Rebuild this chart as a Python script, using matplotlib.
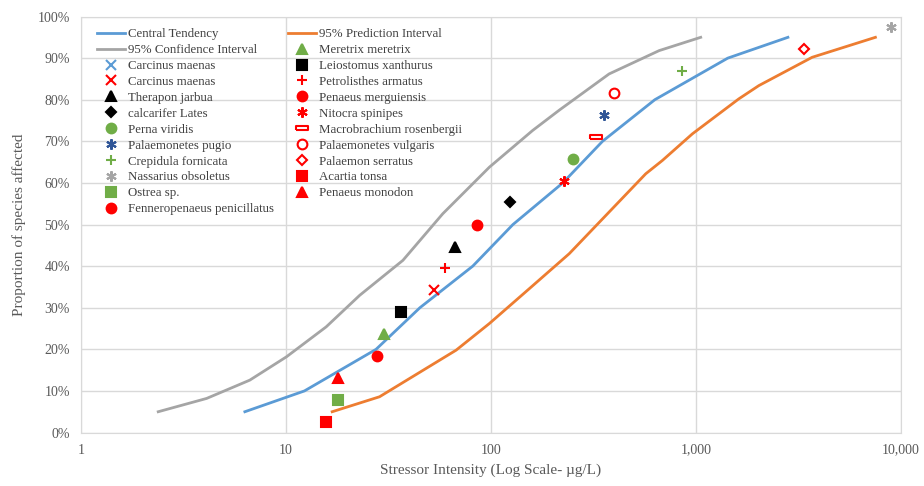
import matplotlib.pyplot as plt
from matplotlib.ticker import FuncFormatter, PercentFormatter, NullLocator

plt.rcParams['font.family'] = ['Liberation Serif', 'DejaVu Serif']

# fitted curves (concentration in ug/L, percent affected)
central_x = [6.3, 12.3, 27.5, 45, 81.5, 128, 224, 350, 630, 1430, 2810]
central_pct = [5, 10, 20, 30, 40, 50, 60, 70, 80, 90, 95]
confidence_x = [2.38, 4.1, 6.66, 10.05, 15.7, 22.9, 37.2, 58.2, 98.3, 159.6, 215.5, 377, 661, 1055]
confidence_pct = [5, 8.2, 12.6, 18.2, 25.4, 33, 41.4, 52.6, 63.8, 72.6, 77.5, 86.2, 91.8, 95]
prediction_x = [16.8, 28.6, 67.6, 98.2, 154, 241, 569, 686, 961, 1618, 2028, 3690, 7510]
prediction_pct = [5, 8.6, 19.8, 26.2, 34.6, 43, 62.2, 65.4, 71.8, 80.2, 83.4, 90.2, 95]

# species points (legend order, column by column)
species = ['Carcinus maenas', 'Carcinus maenas', 'Therapon jarbua', 'calcarifer Lates',
           'Perna viridis', 'Palaemonetes pugio', 'Crepidula fornicata', 'Nassarius obsoletus',
           'Ostrea sp.', 'Fenneropenaeus penicillatus',
           'Meretrix meretrix', 'Leiostomus xanthurus', 'Petrolisthes armatus',
           'Penaeus merguiensis', 'Nitocra spinipes', 'Macrobrachium rosenbergii',
           'Palaemonetes vulgaris', 'Palaemon serratus', 'Acartia tonsa', 'Penaeus monodon']
species_x = [None, 53, 67, 124, 252, 357, 859, 8920, 17.9, 27.9,
             30.1, 36.2, 59.7, 85.2, 228, 325, 399, 3360, 15.6, 17.9]
species_pct = [None, 34.2, 44.7, 55.3, 65.8, 76.3, 86.8, 97.4, 7.9, 18.4,
               23.7, 28.9, 39.5, 50.0, 60.5, 71.1, 81.6, 92.1, 2.6, 13.2]

RED = '#FF0000'
GREEN = '#70AD47'
rect = [(-1, -0.3), (1, -0.3), (1, 0.3), (-1, 0.3), (-1, -0.3)]
star = (6, 2, 0)
# marker, colour, filled, size
styles = [('x', '#5B9BD5', True, 7), ('x', RED, True, 7), ('^', 'black', True, 7),
          ('D', 'black', True, 5.5), ('o', GREEN, True, 7), (star, '#2F5597', True, 7.5),
          ('+', GREEN, True, 7), (star, '#A5A5A5', True, 7.5), ('s', GREEN, True, 7),
          ('o', RED, True, 7), ('^', GREEN, True, 7), ('s', 'black', True, 7),
          ('+', RED, True, 7), ('o', RED, True, 7), (star, RED, True, 7.5),
          (rect, RED, False, 8), ('o', RED, False, 7), ('D', RED, False, 5.5),
          ('s', RED, True, 7), ('^', RED, True, 7)]

fig, ax = plt.subplots(figsize=(9.24, 4.86), dpi=100)
fig.subplots_adjust(left=0.0877, right=0.975, bottom=0.11, top=0.966)

h_central, = ax.plot(central_x, [p / 100 for p in central_pct], color='#5B9BD5', lw=2,
                     label='Central Tendency')
h_conf, = ax.plot(confidence_x, [p / 100 for p in confidence_pct], color='#A5A5A5', lw=2,
                  label='95% Confidence Interval')
h_pred, = ax.plot(prediction_x, [p / 100 for p in prediction_pct], color='#ED7D31', lw=2,
                  label='95% Prediction Interval')

point_handles = []
for name, x, p, (m, c, filled, ms) in zip(species, species_x, species_pct, styles):
    xs = [] if x is None else [x]
    ys = [] if p is None else [p / 100]
    h, = ax.plot(xs, ys, linestyle='none', marker=m, markersize=ms,
                 color=c, markeredgecolor=c, markerfacecolor=c if filled else 'white',
                 markeredgewidth=1.5, label=name, zorder=5)
    point_handles.append(h)

handles = [h_central, h_conf] + point_handles[:10] + [h_pred] + point_handles[10:]
ax.legend(handles=handles, ncol=2, loc='upper left', bbox_to_anchor=(0.019, 0.972),
          frameon=False, fontsize=9.3, labelspacing=0.3, handlelength=2.2,
          handletextpad=0.2, columnspacing=1.1, borderaxespad=0, borderpad=0,
          labelcolor='#404040')

ax.set_xscale('log')
ax.set_xlim(1, 10000)
ax.set_ylim(0, 1)
ax.set_yticks([i / 10 for i in range(11)])
ax.yaxis.set_major_formatter(PercentFormatter(1.0, decimals=0))
ax.set_xticks([1, 10, 100, 1000, 10000])
ax.xaxis.set_minor_locator(NullLocator())
ax.xaxis.set_major_formatter(FuncFormatter(lambda v, pos: f'{v:,.0f}'))

ax.grid(True, color='#D9D9D9', lw=1)
ax.set_axisbelow(True)
for s in ax.spines.values():
    s.set_color('#D9D9D9')
ax.tick_params(length=0, labelsize=10, colors='#595959', pad=8)

ax.set_xlabel('Stressor Intensity (Log Scale- µg/L)', fontsize=11, color='#595959', labelpad=5)
ax.set_ylabel('Proportion of species affected', fontsize=11, color='#595959', labelpad=8)

fig.savefig('out.png', dpi=100)
